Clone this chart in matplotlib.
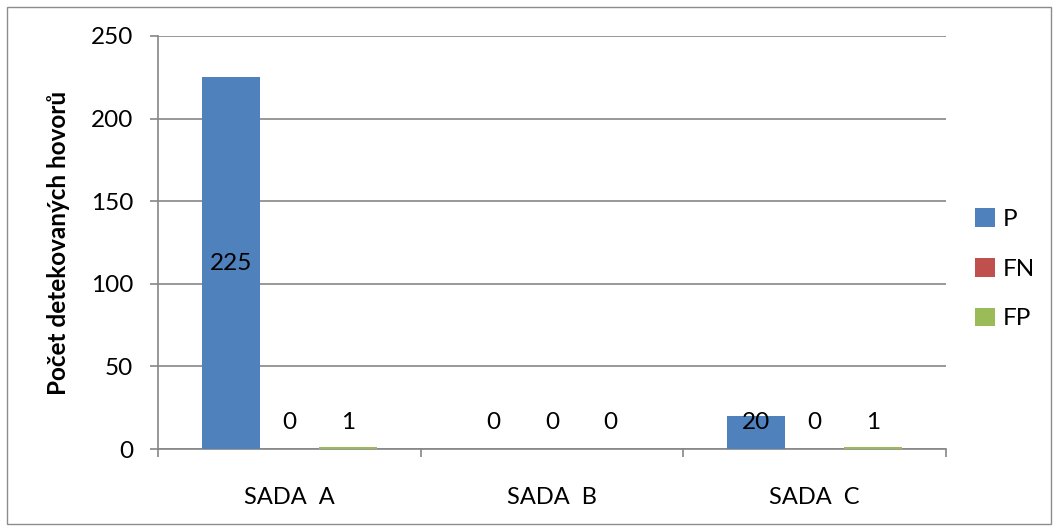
import numpy as np
import matplotlib.pyplot as plt
from matplotlib.patches import Rectangle

plt.rcParams['font.family'] = ['Lato', 'DejaVu Sans']

categories = ['SADA  A', 'SADA  B', 'SADA  C']
series = ['P', 'FN', 'FP']
P = [225, 0, 20]
FN = [0, 0, 0]
FP = [1, 0, 1]
colors = ['#4F81BD', '#C0504D', '#9BBB59']

fig = plt.figure(figsize=(10.58, 5.31), dpi=100)
fig.patches.append(Rectangle((7 / 1058, 7 / 531), 1044 / 1058, 517 / 531,
                             transform=fig.transFigure, fill=False,
                             edgecolor='#8c8c8c', lw=1))
ax = fig.add_axes([158 / 1058, 1 - 449 / 531, 788 / 1058, 413 / 531])

x = np.arange(len(categories))
w = 1 / 4.5
for k, (name, vals) in enumerate(zip(series, [P, FN, FP])):
    pos = x + (k - 1) * w
    ax.bar(pos, vals, width=w, color=colors[k], label=name, zorder=3)
    for p, v in zip(pos, vals):
        yl = v / 2 if v > 40 else 16
        ax.text(p, yl, str(v), ha='center', va='center', fontsize=17.5,
                color='black', zorder=4)

ax.set_xlim(-0.5, 2.5)
ax.set_ylim(0, 250)
ax.set_yticks(range(0, 251, 50))
ax.yaxis.grid(True, color='#868686', lw=1.2, zorder=0)
ax.set_xticks(x)
ax.set_xticklabels(categories)
ax.set_xticks([-0.5, 0.5, 1.5, 2.5], minor=True)
ax.tick_params(axis='x', which='major', length=0, pad=27, labelsize=17)
ax.tick_params(axis='x', which='minor', length=6, color='#868686', width=1.2)
ax.tick_params(axis='y', length=6, color='#868686', width=1.2, labelsize=17.5, pad=12)
for s in ['top', 'right']:
    ax.spines[s].set_visible(False)
for s in ['left', 'bottom']:
    ax.spines[s].set_color('#868686')
    ax.spines[s].set_linewidth(1.2)

ax.set_ylabel('Počet detekovaných hovorů', fontsize=17.5, fontweight='bold')
ax.yaxis.set_label_coords(-0.112, 0.5)

ax.legend(loc='center left', bbox_to_anchor=(1.037, 0.436), frameon=False,
          fontsize=17.5, handlelength=0.8, handleheight=0.8, labelspacing=1.15,
          handletextpad=0.35, borderaxespad=0, borderpad=0)

fig.savefig('out.png', dpi=100)
